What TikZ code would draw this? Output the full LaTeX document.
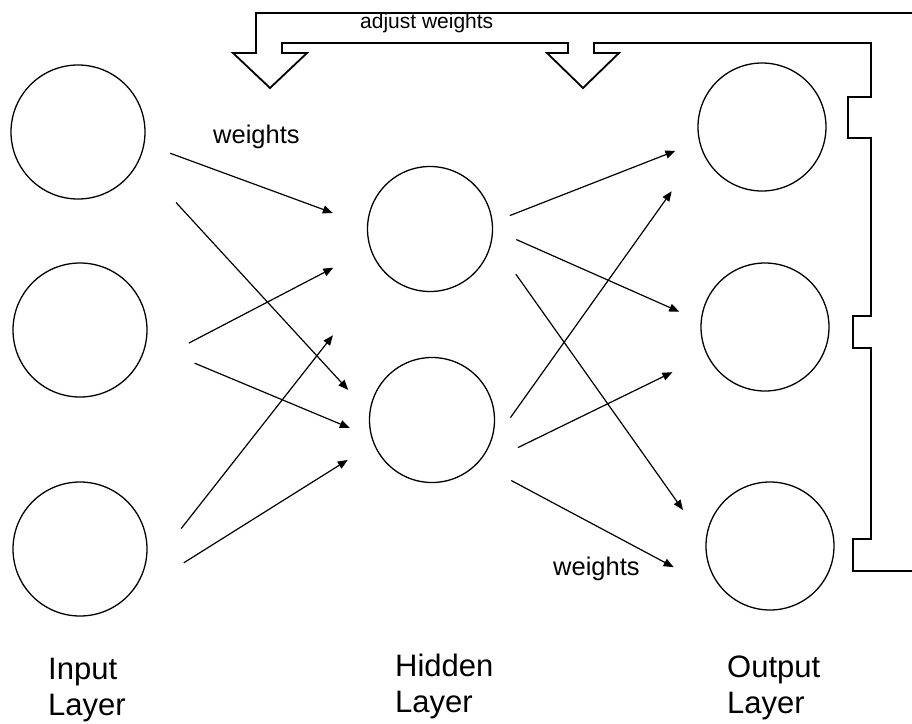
\documentclass[tikz,border=0pt]{standalone}
\usepackage{fontspec}
\setmainfont{Liberation Sans}
\usetikzlibrary{arrows.meta}

\begin{document}
\begin{tikzpicture}[x=1pt, y=-1pt,
  neuron/.style={draw, circle, line width=1.3pt, inner sep=0pt, outer sep=0pt},
  inp/.style={neuron, minimum size=134pt}, hid/.style={neuron, minimum size=125pt},
  outp/.style={neuron, minimum size=128pt},
  wt/.style={-{Triangle[length=10pt, width=8pt]}, line width=1.2pt},
  layer/.style={align=left, inner sep=0pt, anchor=base west, font=\fontsize{31}{36}\selectfont},
  lbl/.style={inner sep=0pt, anchor=base west, font=\fontsize{25.5}{30}\selectfont}]
\useasboundingbox (0,0) rectangle (912,723);
% neurons
\node[inp] (i1) at (78,132) {}; \node[inp] (i2) at (80,330) {}; \node[inp] (i3) at (80,549) {};
\node[hid] (h1) at (430,229) {}; \node[hid] (h2) at (432,420) {};
\node[outp] (o1) at (762,127) {}; \node[outp] (o2) at (765,327) {}; \node[outp] (o3) at (770,546) {};
% input -> hidden
\draw[wt, shorten <=28pt, shorten >=37pt] (i1.-10) -- (h1.177);
\draw[wt, shorten <=56pt, shorten >=32pt] (i1.-26) -- (h2.174);
\draw[wt, shorten <=65pt, shorten >=42pt] (i2.-40) -- (h1.198);
\draw[wt, shorten <=53pt, shorten >=24pt] (i2.-11) -- (h2.196);
\draw[wt, shorten <=76pt, shorten >=82pt] (i3.-36) -- (h1.222);
\draw[wt, shorten <=76pt, shorten >=31pt] (i3.-54) -- (h2.202);
% hidden -> output
\draw[wt, shorten <=19pt, shorten >=26pt] (h1.6) -- (o1.193);
\draw[wt, shorten <=26pt, shorten >=24pt] (h1.0) -- (o2.175);
\draw[wt, shorten <=42pt, shorten >=40pt] (h1.-10) -- (o3.177);
\draw[wt, shorten <=47pt, shorten >=52pt] (h2.-35) -- (o1.200);
\draw[wt, shorten <=64pt, shorten >=39pt] (h2.-63) -- (o2.206);
\draw[wt, shorten <=38pt, shorten >=74pt] (h2.-43) -- (o3.241);
% feedback outline
\draw[line width=1.8pt, line join=miter] (912,13) -- (256,13) -- (256,53) -- (233,53) -- (270,88)
  -- (307,53) -- (282,53) -- (282,43) -- (568,43) -- (568,53) -- (547,53) -- (583,88)
  -- (619,53) -- (594,53) -- (594,43) -- (871,43) -- (871,97) -- (848,97) -- (848,138)
  -- (871,138) -- (871,316) -- (853,316) -- (853,348) -- (871,348) -- (871,539)
  -- (853,539) -- (853,571) -- (912,571);
% labels
\node[lbl, font=\fontsize{21}{25}\selectfont] (adj) at (360,28) {adjust weights};
\node[lbl] (w1) at (213,143) {weights}; \node[lbl] (w2) at (553,575) {weights};
\node[layer] (li) at (48,715) {Input\\Layer};
\node[layer] (lh) at (395,712) {Hidden\\Layer};
\node[layer] (lo) at (727,713) {Output\\Layer};
\end{tikzpicture}
\end{document}
